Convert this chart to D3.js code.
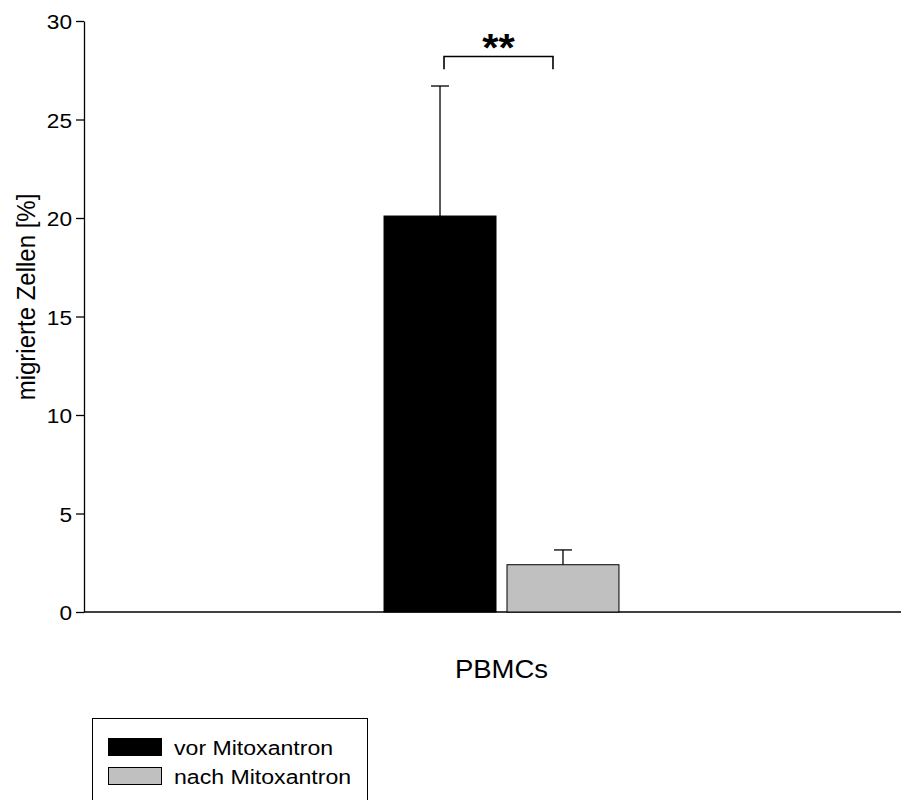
<!DOCTYPE html>
<html>
<head>
<meta charset="utf-8">
<script src="https://cdn.jsdelivr.net/npm/d3@7"></script>
<style>
  html, body { margin: 0; padding: 0; background: #fff; }
  svg { display: block; font-family: Arial, "Liberation Sans", Helvetica, sans-serif; }
</style>
</head>
<body>
<svg id="chart" width="901" height="800"></svg>
<script>
// Migration assay: share of migrated PBMCs before and after mitoxantrone
const categories = ["PBMCs"];
const series = ["vor Mitoxantron", "nach Mitoxantron"];
const means = [20.1, 2.4];
const errors = [6.6, 0.75];
const colors = ["#000000", "#c0c0c0"];
const yTicks = [0, 5, 10, 15, 20, 25, 30];
const significance = "**";
const yTitle = "migrierte Zellen [%]";

const svg = d3.select("#chart");
const margin = { left: 84, top: 21, bottom: 612 };
const wide = 1.1; // glyphs are drawn slightly wider than the font's native width

const y = d3.scaleLinear().domain([0, 30]).range([margin.bottom, margin.top]);
const x0 = d3.scaleBand().domain(categories).range([margin.left, 919])
  .paddingInner(0).paddingOuter(1.277);
const x1 = d3.scaleBand().domain(series).range([0, x0.bandwidth()])
  .paddingInner(0.0894).paddingOuter(0);

function label(g, x, yPos, str, size, anchor, opts = {}) {
  const rot = opts.rotate ? ` rotate(${opts.rotate}) scale(1,${opts.s || wide})`
                          : ` scale(${opts.s || wide},1)`;
  return g.append("text")
    .attr("transform", `translate(${x},${yPos})${rot}`)
    .attr("text-anchor", anchor)
    .attr("font-size", size)
    .attr("font-weight", opts.weight || "normal")
    .attr("fill", "#000")
    .text(str);
}

// y axis
const yAxis = svg.append("g")
  .attr("transform", `translate(${margin.left},0)`)
  .call(d3.axisLeft(y).tickValues(yTicks).tickSize(8).tickSizeOuter(0).tickFormat(() => ""));
yAxis.select(".domain").attr("stroke", "#000").attr("stroke-width", 1.3);
yAxis.selectAll(".tick line").attr("stroke", "#000").attr("stroke-width", 1.3);

yTicks.forEach(t => label(svg, 72, y(t) + 8, String(t), 21, "end", { s: 1.08 }));

// y title
label(svg, 35, 297, yTitle, 24, "middle", { rotate: -90, s: 1.1 });

// x axis baseline
svg.append("line")
  .attr("x1", margin.left).attr("x2", 901)
  .attr("y1", y(0)).attr("y2", y(0))
  .attr("stroke", "#000").attr("stroke-width", 1.6);

// bars with upper error bars
const group = svg.append("g");
categories.forEach(cat => {
  series.forEach((s, i) => {
    const bx = x0(cat) + x1(s);
    const bw = x1.bandwidth();
    const cx = bx + bw / 2;
    group.append("line")
      .attr("x1", cx).attr("x2", cx)
      .attr("y1", y(means[i])).attr("y2", y(means[i] + errors[i]))
      .attr("stroke", "#000").attr("stroke-width", 1.3);
    group.append("line")
      .attr("x1", cx - 9).attr("x2", cx + 9)
      .attr("y1", y(means[i] + errors[i])).attr("y2", y(means[i] + errors[i]))
      .attr("stroke", "#000").attr("stroke-width", 1.3);
    group.append("rect")
      .attr("x", bx).attr("y", y(means[i]))
      .attr("width", bw).attr("height", y(0) - y(means[i]))
      .attr("fill", colors[i])
      .attr("stroke", "#000").attr("stroke-width", 1);
  });
});

// significance bracket
const cVor = x0(categories[0]) + x1(series[0]) + x1.bandwidth() / 2;
const cNach = x0(categories[0]) + x1(series[1]) + x1.bandwidth() / 2;
const bl = cVor + 4, br = cNach - 10;
const yb = y(28.2), ybLeg = y(27.55);
svg.append("path")
  .attr("d", `M${bl},${ybLeg}V${yb}H${br}V${ybLeg}`)
  .attr("fill", "none").attr("stroke", "#000").attr("stroke-width", 1.6);
label(svg, (bl + br) / 2, 61, significance, 38, "middle", { weight: "bold" });

// category label
categories.forEach(cat => {
  label(svg, x0(cat) + x0.bandwidth() / 2, 678, cat, 25, "middle");
});

// legend
const legend = svg.append("g");
legend.append("rect")
  .attr("x", 92.5).attr("y", 718.5).attr("width", 275).attr("height", 100)
  .attr("fill", "#fff").attr("stroke", "#000").attr("stroke-width", 1);
series.forEach((s, i) => {
  const ly = 738 + i * 29;
  legend.append("rect")
    .attr("x", 108.5).attr("y", ly + 0.5).attr("width", 53).attr("height", 17)
    .attr("fill", colors[i]).attr("stroke", "#000").attr("stroke-width", 1);
  label(legend, 174, ly + 17, s, 21, "start");
});
</script>
</body>
</html>
